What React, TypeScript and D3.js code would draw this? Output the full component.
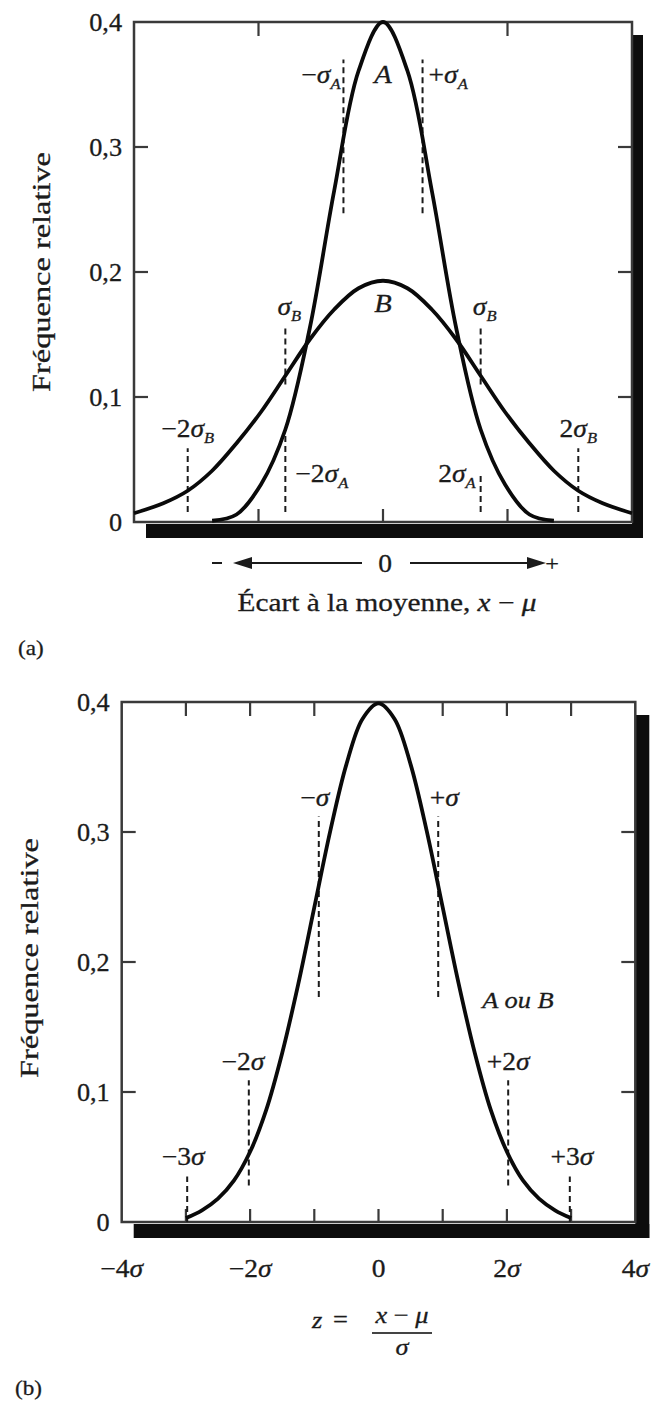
import * as d3 from "d3";

// ---- panel (a): x in units of sigma_A ----
const xA = [-3.5, -3, -2.5, -2, -1.5, -1, -0.5, 0, 0.5, 1, 1.5, 2, 2.5, 3, 3.5];
const curveA = [0.001, 0.006, 0.03, 0.074, 0.155, 0.265, 0.361, 0.4, 0.361, 0.265, 0.155, 0.074, 0.03, 0.006, 0.001];
const xB = [-5.1, -4.5, -4, -3.5, -3, -2.5, -2, -1.5, -1, -0.5, 0, 0.5, 1, 1.5, 2, 2.5, 3, 3.5, 4, 4.5, 5.1];
const curveB = [0.007, 0.015, 0.025, 0.041, 0.063, 0.088, 0.117, 0.146, 0.17, 0.187, 0.193, 0.187, 0.17, 0.146, 0.117, 0.088, 0.063, 0.041, 0.025, 0.015, 0.007];
const xTicksA = [-2.55, 0, 2.55];

// ---- panel (b): x in units of sigma ----
const xZ = [-3, -2.75, -2.5, -2.25, -2, -1.75, -1.5, -1.25, -1, -0.75, -0.5, -0.25, 0, 0.25, 0.5, 0.75, 1, 1.25, 1.5, 1.75, 2, 2.25, 2.5, 2.75, 3];
const curveZ = [0.003, 0.009, 0.018, 0.032, 0.054, 0.086, 0.13, 0.183, 0.242, 0.301, 0.352, 0.387, 0.399, 0.387, 0.352, 0.301, 0.242, 0.183, 0.13, 0.086, 0.054, 0.032, 0.018, 0.009, 0.003];
const xTicksB = [-3, -2, -1, 0, 1, 2, 3];
const xLabelsB = [-4, -2, 0, 2, 4];
const xLabelTextB = ["−4σ", "−2σ", "0", "2σ", "4σ"];

const yTicks = [0.1, 0.2, 0.3];
const yLabels = [0, 0.1, 0.2, 0.3, 0.4];
const yLabelText = ["0", "0,1", "0,2", "0,3", "0,4"];

// dashed markers: position, dash range, label, label baseline value
const marksA = [
  { at: -0.81, from: 0.247, to: 0.37, text: "−σ", sub: "A", ly: 0.351, anchor: "end", dx: -3 },
  { at: 0.81, from: 0.247, to: 0.37, text: "+σ", sub: "A", ly: 0.351, anchor: "start", dx: 6 },
  { at: -2, from: 0.11, to: 0.157, text: "σ", sub: "B", ly: 0.166, anchor: "middle", dx: 4 },
  { at: 2, from: 0.11, to: 0.157, text: "σ", sub: "B", ly: 0.166, anchor: "middle", dx: 4 },
  { at: -2, from: 0.008, to: 0.072, text: "−2σ", sub: "A", ly: 0.032, anchor: "start", dx: 10 },
  { at: 2, from: 0.008, to: 0.04, text: "2σ", sub: "A", ly: 0.032, anchor: "end", dx: -5 },
  { at: -4, from: 0.008, to: 0.059, text: "−2σ", sub: "B", ly: 0.068, anchor: "middle", dx: 0 },
  { at: 4, from: 0.008, to: 0.059, text: "2σ", sub: "B", ly: 0.068, anchor: "middle", dx: 0 },
];
const marksB = [
  { at: -0.93, from: 0.173, to: 0.312, text: "−σ", ly: 0.32, dx: -4 },
  { at: 0.93, from: 0.173, to: 0.312, text: "+σ", ly: 0.32, dx: 6 },
  { at: -2.02, from: 0.028, to: 0.109, text: "−2σ", ly: 0.117, dx: -6 },
  { at: 2.02, from: 0.028, to: 0.109, text: "+2σ", ly: 0.117, dx: 0 },
  { at: -2.98, from: 0, to: 0.035, text: "−3σ", ly: 0.044, dx: -4 },
  { at: 2.98, from: 0, to: 0.035, text: "+3σ", ly: 0.044, dx: 2 },
];

const INK = "#1b1b1b";
const FONT = "'Liberation Serif', 'Times New Roman', serif";

function T({ x, y, size = 25, anchor = "middle", italic = false, sx = 1.1, children }: any) {
  return (
    <text
      transform={`translate(${x},${y}) scale(${sx},1)`}
      fontSize={size}
      textAnchor={anchor}
      fontStyle={italic ? "italic" : "normal"}
      fill={INK}
      stroke={INK}
      strokeWidth={0.3}
    >
      {children}
    </text>
  );
}

function Sig({ text, sub }: any) {
  if (!text.endsWith("σ")) return <>{text}</>;
  // leading sign / digit, then sigma
  const pre = text.slice(0, -1);
  return (
    <>
      {pre}
      <tspan fontStyle="italic">σ</tspan>
      {sub ? (
        <tspan fontSize={15} dy={6} fontStyle="italic">
          {sub}
        </tspan>
      ) : null}
    </>
  );
}

function Frame({ x, y, ticksX, shadow }: any) {
  const [x0, x1] = x.range();
  const [y0, y1] = y.range(); // y0 bottom, y1 top
  return (
    <g>
      {/* shadow */}
      <rect x={x1} y={y1 + shadow.top} width={shadow.w} height={y0 - y1 - shadow.top + shadow.h + 2} fill="#0d0d0d" />
      <rect x={x0 + shadow.left} y={y0 + 2} width={x1 - x0 - shadow.left + shadow.w} height={shadow.h} fill="#0d0d0d" />
      <rect x={x0} y={y1} width={x1 - x0} height={y0 - y1} fill="none" stroke="#3a3a3a" strokeWidth={2.5} />
      {yTicks.map((v) => (
        <g key={v}>
          <line x1={x0} x2={x0 + 14} y1={y(v)} y2={y(v)} stroke="#3a3a3a" strokeWidth={2.2} />
          <line x1={x1} x2={x1 - 14} y1={y(v)} y2={y(v)} stroke="#3a3a3a" strokeWidth={2.2} />
        </g>
      ))}
      {ticksX.map((v: number) => (
        <g key={v}>
          <line x1={x(v)} x2={x(v)} y1={y0} y2={y0 - 13} stroke="#3a3a3a" strokeWidth={2.2} />
          {v !== 0 ? <line x1={x(v)} x2={x(v)} y1={y1} y2={y1 + 14} stroke="#3a3a3a" strokeWidth={2.2} /> : null}
        </g>
      ))}
      {yLabels.map((v, i) => (
        <T key={v} x={x0 - 12} y={y(v) + 9} anchor="end" size={25} sx={1.05}>
          {yLabelText[i]}
        </T>
      ))}
    </g>
  );
}

export default function App() {
  // panel (a)
  const xa = d3.scaleLinear().domain([-5.1, 5.1]).range([134, 632]);
  const ya = d3.scaleLinear().domain([0, 0.4]).range([522, 22]);
  // panel (b)
  const xb = d3.scaleLinear().domain([-4, 4]).range([121.7, 635.3]);
  const yb = d3.scaleLinear().domain([0, 0.4]).range([1222, 702]);

  const lineA = d3
    .line<number>()
    .x((_, i) => xa(xA[i]))
    .y((d) => ya(d))
    .curve(d3.curveCatmullRom);
  const lineB = d3
    .line<number>()
    .x((_, i) => xa(xB[i]))
    .y((d) => ya(d))
    .curve(d3.curveCatmullRom);
  const lineZ = d3
    .line<number>()
    .x((_, i) => xb(xZ[i]))
    .y((d) => yb(d))
    .curve(d3.curveCatmullRom);

  return (
    <svg
      width={662}
      height={1404}
      style={{ position: "absolute", left: 0, top: 0, background: "#fff" }}
      fontFamily={FONT}
    >
      {/* ---------- (a) ---------- */}
      <Frame x={xa} y={ya} ticksX={xTicksA} shadow={{ top: 13, left: 12, w: 11, h: 14 }} />
      {marksA.map((m, i) => (
        <line
          key={"da" + i}
          x1={xa(m.at)}
          x2={xa(m.at)}
          y1={ya(m.from)}
          y2={ya(m.to)}
          stroke={INK}
          strokeWidth={2}
          strokeDasharray="6,4"
        />
      ))}
      <path d={lineB(curveB) || ""} fill="none" stroke="#0a0a0a" strokeWidth={3.8} />
      <path d={lineA(curveA) || ""} fill="none" stroke="#0a0a0a" strokeWidth={3.8} />
      {marksA.map((m, i) => (
        <T key={"la" + i} x={xa(m.at) + m.dx} y={ya(m.ly)} anchor={m.anchor} size={25}>
          <Sig text={m.text} sub={m.sub} />
        </T>
      ))}
      <T x={xa(0)} y={ya(0.351)} italic size={26}>A</T>
      <T x={xa(0)} y={ya(0.168)} italic size={26}>B</T>
      <text
        transform="translate(50,272) rotate(-90)"
        textAnchor="middle"
        fontSize={25}
        textLength={240}
        lengthAdjust="spacingAndGlyphs"
        fill={INK}
        stroke={INK}
        strokeWidth={0.3}
      >
        Fréquence relative
      </text>
      {/* direction arrows */}
      <line x1={245} x2={362} y1={563} y2={563} stroke={INK} strokeWidth={2.2} />
      <polygon points="233,563 252,557 252,569" fill={INK} />
      <line x1={410} x2={535} y1={563} y2={563} stroke={INK} strokeWidth={2.2} />
      <polygon points="546,563 527,557 527,569" fill={INK} />
      <line x1={212} x2={222} y1={563} y2={563} stroke={INK} strokeWidth={2} />
      <T x={552} y={571} size={22}>+</T>
      <T x={385} y={572} size={25}>0</T>
      <text
        x={387}
        y={611}
        textAnchor="middle"
        fontSize={25}
        textLength={299}
        lengthAdjust="spacingAndGlyphs"
        fill={INK}
        stroke={INK}
        strokeWidth={0.3}
      >
        Écart à la moyenne, <tspan fontStyle="italic">x</tspan> − <tspan fontStyle="italic">μ</tspan>
      </text>
      <T x={18} y={655} anchor="start" size={22} sx={1.05}>(a)</T>

      {/* ---------- (b) ---------- */}
      <Frame x={xb} y={yb} ticksX={xTicksB} shadow={{ top: 13, left: 12, w: 14, h: 14 }} />
      {marksB.map((m, i) => (
        <line
          key={"db" + i}
          x1={xb(m.at)}
          x2={xb(m.at)}
          y1={yb(m.from)}
          y2={yb(m.to)}
          stroke={INK}
          strokeWidth={2}
          strokeDasharray="6,4"
        />
      ))}
      <path d={lineZ(curveZ) || ""} fill="none" stroke="#0a0a0a" strokeWidth={3.8} />
      {marksB.map((m, i) => (
        <T key={"lb" + i} x={xb(m.at) + m.dx} y={yb(m.ly)} size={25}>
          <Sig text={m.text} />
        </T>
      ))}
      <T x={518} y={1008} italic size={24}>A ou B</T>
      {xLabelsB.map((v, i) => (
        <T key={"xl" + v} x={xb(v)} y={1277} size={25}>
          <Sig text={xLabelTextB[i]} />
        </T>
      ))}
      <text
        transform="translate(38,958) rotate(-90)"
        textAnchor="middle"
        fontSize={25}
        textLength={240}
        lengthAdjust="spacingAndGlyphs"
        fill={INK}
        stroke={INK}
        strokeWidth={0.3}
      >
        Fréquence relative
      </text>
      <T x={312} y={1328} anchor="start" size={24} italic>z</T>
      <T x={333} y={1327} anchor="start" size={24}>=</T>
      <T x={402} y={1323} size={24}>
        <tspan fontStyle="italic">x</tspan> − <tspan fontStyle="italic">μ</tspan>
      </T>
      <line x1={372} x2={432} y1={1333} y2={1333} stroke="#444" strokeWidth={2} />
      <T x={402} y={1355} size={24} italic>σ</T>
      <T x={15} y={1395} anchor="start" size={22} sx={1.05}>(b)</T>
    </svg>
  );
}
